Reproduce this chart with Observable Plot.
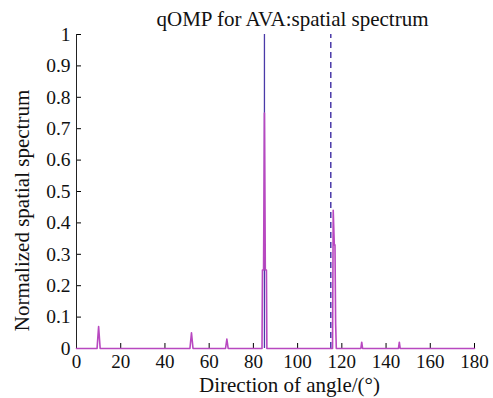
<!DOCTYPE html>
<html>
<head>
<meta charset="utf-8">
<script src="https://cdn.jsdelivr.net/npm/d3@7"></script>
<script src="https://cdn.jsdelivr.net/npm/@observablehq/plot@0.6"></script>
<style>
html,body{margin:0;padding:0;background:#fff;font-family:"Liberation Serif",serif;}
</style>
</head>
<body>
<div id="chart"></div>
<script>
const title = "qOMP for AVA:spatial spectrum";
const xLabel = "Direction of angle/(°)";
const yLabel = "Normalized spatial spectrum";
const xTicks = [0,20,40,60,80,100,120,140,160,180];
const yTicks = [0,0.1,0.2,0.3,0.4,0.5,0.6,0.7,0.8,0.9,1];

// estimated spectrum (magenta)
const specAngle = [0, 9.3, 10, 10.7, 51.3, 52, 52.7, 67.4, 68, 68.6, 83.9, 84.1, 84.6, 85, 85.4, 85.9, 86.1,
                   115.8, 116.1, 116.6, 116.9, 117.2, 117.5, 128.6, 129, 129.4, 145.6, 146, 146.4, 180];
const specValue = [0, 0, 0.07, 0, 0, 0.05, 0, 0, 0.03, 0, 0, 0.25, 0.25, 0.75, 0.25, 0.25, 0,
                   0, 0.44, 0.33, 0.33, 0.08, 0, 0, 0.02, 0, 0, 0.02, 0, 0];
// true directions (blue)
const trueAngle = [85, 115];
const trueValue = [1, 1];
const trueStyle = ["solid", "dashed"];

const spec = specAngle.map((a, i) => ({a, v: specValue[i]}));
const truth = trueAngle.map((a, i) => ({a, v: trueValue[i], s: trueStyle[i]}));

const serif = "Liberation Serif";

const chart = Plot.plot({
  width: 493,
  height: 398,
  marginLeft: 76,
  marginRight: 19,
  marginTop: 34,
  marginBottom: 50,
  style: "font-family: 'Liberation Serif', serif; font-size: 19px; background: #fff;",
  x: {domain: [0, 180], ticks: xTicks},
  y: {domain: [0, 1], ticks: yTicks},
  marks: [
    Plot.axisX({ticks: xTicks, tickSize: -5, tickPadding: 11, label: null, fontSize: 19, tickFormat: d => `${d}`, fill: "#111"}),
    Plot.axisY({ticks: yTicks, tickSize: -5, tickPadding: 11, label: null, fontSize: 19.5, tickFormat: d => `${+d.toFixed(1)}`, fill: "#111"}),
    Plot.ruleX([0], {stroke: "#222", strokeWidth: 1}),
    Plot.ruleX(truth.filter(d => d.s === "solid"), {x: "a", y1: 0, y2: "v", stroke: "#4a3aa8", strokeWidth: 1.3}),
    Plot.ruleX(truth.filter(d => d.s === "dashed"), {x: "a", y1: 0, y2: "v", stroke: "#4a3aa8", strokeWidth: 1.5, strokeDasharray: "6,4"}),
    Plot.line(spec, {x: "a", y: "v", stroke: "#b848c0", strokeWidth: 1.6}),
    Plot.text([title], {frameAnchor: "top", textAnchor: "middle", lineAnchor: "middle", dy: -15, dx: 17, fontSize: 21, fill: "#111"}),
    Plot.text([xLabel], {frameAnchor: "bottom", textAnchor: "middle", lineAnchor: "middle", dy: 37, dx: 14, fontSize: 21, fill: "#111"}),
    Plot.text([yLabel], {frameAnchor: "left", textAnchor: "middle", lineAnchor: "middle", dx: -54, dy: 19, rotate: -90, fontSize: 21, fill: "#111"})
  ]
});
d3.select(chart).attr("font-family", serif);
d3.select(chart).selectAll("g").attr("font-family", serif);
d3.select(chart).selectAll("text").attr("font-family", serif).style("font-family", "'Liberation Serif', serif");
document.getElementById("chart").appendChild(chart);
</script>
</body>
</html>
